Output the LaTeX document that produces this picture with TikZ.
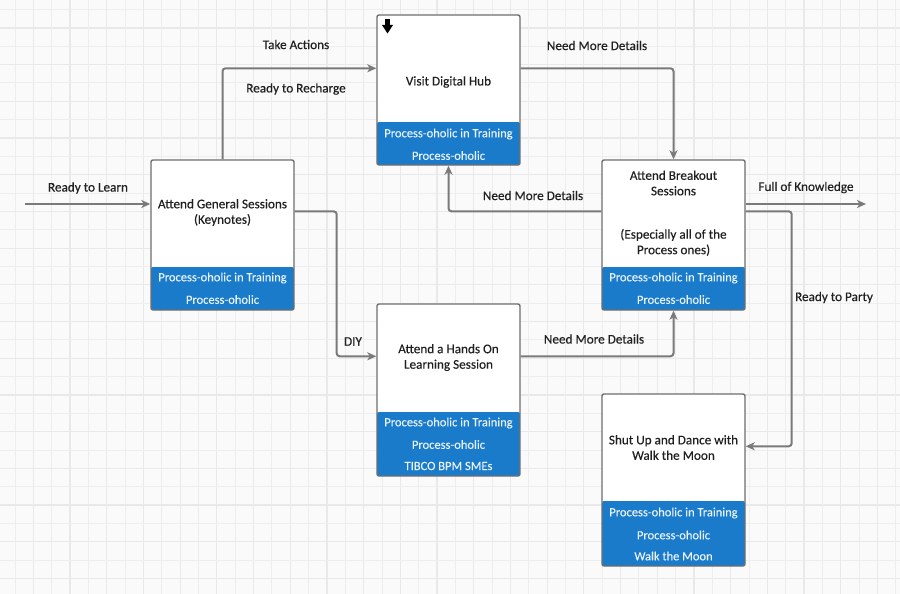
\documentclass[tikz,border=0pt]{standalone}
\usepackage{fontspec}
\setmainfont{Carlito}[FakeBold=0.35]
\newfontfamily\bandfont{Carlito}[FakeBold=0.15]
\usetikzlibrary{arrows.meta,calc}
\definecolor{bandblue}{HTML}{1B7BCB}
\definecolor{bandtext}{HTML}{E8F2FB}
\definecolor{conncol}{HTML}{7A7A7A}
\definecolor{boxborder}{HTML}{6E6E6E}
\definecolor{gridfine}{HTML}{EEEEEE}
\definecolor{gridmajor}{HTML}{E9E9E9}
\definecolor{bgcol}{HTML}{FAFAFA}
\definecolor{txt}{HTML}{202020}
\tikzset{
  box/.style 2 args={draw=boxborder, line width=1.4pt, fill=white, rounded corners=2pt,
    minimum width=143pt, minimum height=#1, inner sep=0pt,
    path picture={\fill[bandblue] (path picture bounding box.south west) rectangle ([yshift=#2]path picture bounding box.south east);}},
  title/.style={font=\fontsize{13.2}{15.5}\selectfont, text=txt, align=center, inner sep=0pt},
  bandtxt/.style={font=\bandfont\fontsize{12.5}{15}\selectfont, text=bandtext, inner sep=0pt},
  lbl/.style={font=\fontsize{13.2}{15}\selectfont, text=txt, inner sep=0pt},
  conn/.style={draw=conncol, line width=2pt, rounded corners=3pt,
    -{Stealth[length=9pt,width=8pt,inset=2.5pt]}},
  gline/.style={draw=gridfine, line width=1pt},
  gmajor/.style={draw=gridmajor, line width=1.2pt},
}
\begin{document}
\begin{tikzpicture}[x=1pt,y=-1pt]
\useasboundingbox (0,0) rectangle (900,594);
\fill[bgcol] (0,0) rectangle (900,594);
\foreach \i in {0,...,49} {
  \pgfmathsetmacro{\gx}{15+18.35*(\i-1)}
  \pgfmathsetmacro{\gy}{9.6+18.35*(\i-1)}
  \ifodd\i
    \draw[gline] (\gx,0) -- (\gx,594);
    \draw[gline] (0,\gy) -- (900,\gy);
  \else
    \draw[gmajor] (\gx,0) -- (\gx,594);
    \draw[gmajor] (0,\gy) -- (900,\gy);
  \fi
}

% boxes
\node[box={150pt}{43pt}] (general) at (222.5,235) {};
\node[box={150pt}{43pt}] (hub) at (448.5,90) {};
\node[box={150pt}{43pt}] (breakout) at (673.5,235) {};
\node[box={172pt}{64pt}] (handson) at (448.5,390) {};
\node[box={172pt}{65pt}] (shutup) at (673.5,480) {};

% titles
\node[title] (generalT) at (222.5,212.5) {Attend General Sessions\\(Keynotes)};
\node[title] (hubT) at (448.5,82) {Visit Digital Hub};
\node[title] (breakoutT1) at (673.5,183) {Attend Breakout\\Sessions};
\node[title] (breakoutT2) at (673.5,242.5) {(Especially all of the\\Process ones)};
\node[title] (handsonT) at (448.5,357.5) {Attend a Hands On\\Learning Session};
\node[title] (shutupT) at (673.5,447.5) {Shut Up and Dance with\\Walk the Moon};

% band texts
\node[bandtxt] (generalB1) at (222.5,278) {Process-oholic in Training};
\node[bandtxt] (generalB2) at (222.5,299.5) {Process-oholic};
\node[bandtxt] (hubB1) at (448.5,134) {Process-oholic in Training};
\node[bandtxt] (hubB2) at (448.5,155.5) {Process-oholic};
\node[bandtxt] (breakoutB1) at (673.5,278) {Process-oholic in Training};
\node[bandtxt] (breakoutB2) at (673.5,299.5) {Process-oholic};
\node[bandtxt] (handsonB1) at (448.5,423) {Process-oholic in Training};
\node[bandtxt] (handsonB2) at (448.5,444.5) {Process-oholic};
\node[bandtxt] (handsonB3) at (448.5,466) {TIBCO BPM SMEs};
\node[bandtxt] (shutupB1) at (673.5,513) {Process-oholic in Training};
\node[bandtxt] (shutupB2) at (673.5,535) {Process-oholic};
\node[bandtxt] (shutupB3) at (673.5,556) {Walk the Moon};

% down-arrow icon in hub
\fill[black] (385.4,19.5) rectangle (389.6,27);
\fill[black] (382,25) -- (393,25) -- (387.5,33.5) -- cycle;

% connectors
\coordinate (inL) at (25,204);
\coordinate (outR) at (866,204);
\draw[conn] (inL) -- (inL -| general.west);
\draw[conn] (general.north) |- ($(hub.north west)+(0,54)$);
\draw[conn] ($(hub.north east)+(0,54)$) -| (breakout.north);
\draw[conn] ($(breakout.north west)+(0,52)$) -| (hub.south);
\draw[conn] ($(general.north east)+(0,52)$) -- ++(42,0) |- ($(handson.north west)+(0,53)$);
\draw[conn] ($(handson.north east)+(0,53)$) -| (breakout.south);
\draw[conn] (outR -| breakout.east) -- (outR);
\draw[conn] ($(breakout.north east)+(0,52)$) -- ++(46,0) |- ($(shutup.north east)+(0,53)$);

% labels
\node[lbl] (l1) at (88,188) {Ready to Learn};
\node[lbl] (l2) at (296,44.5) {Take Actions};
\node[lbl] (l3) at (296,89) {Ready to Recharge};
\node[lbl] (l4) at (597,45.5) {Need More Details};
\node[lbl] (l5) at (533,195.5) {Need More Details};
\node[lbl] (l6) at (353,341.5) {DIY};
\node[lbl] (l7) at (594,339) {Need More Details};
\node[lbl] (l8) at (806,187.5) {Full of Knowledge};
\node[lbl] (l9) at (834,297.5) {Ready to Party};
\end{tikzpicture}
\end{document}
